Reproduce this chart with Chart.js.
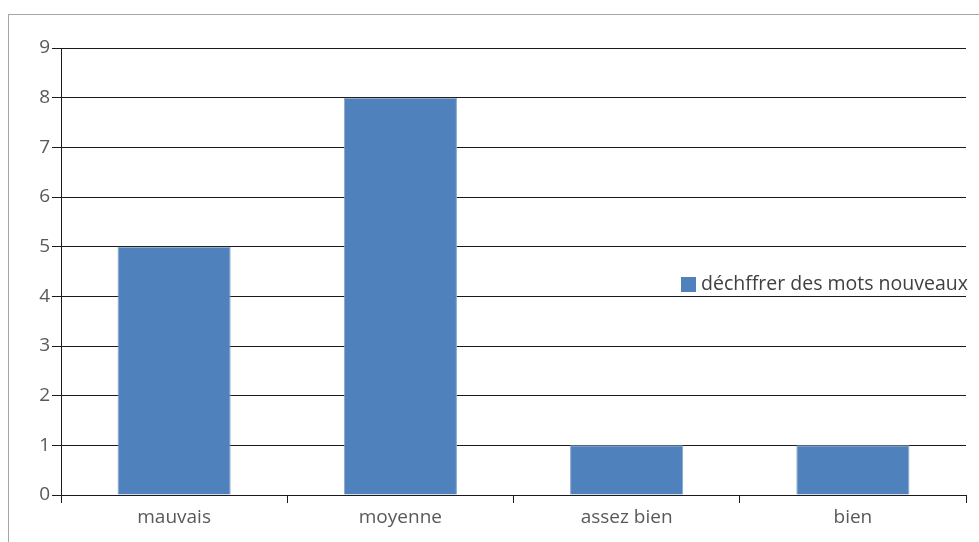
<!DOCTYPE html>
<html>
<head>
<meta charset="utf-8">
<script src="https://cdn.jsdelivr.net/npm/chart.js@4"></script>
<style>
  body { margin: 0; background: #fff; }
  #wrap { width: 979px; height: 542px; position: relative; }
</style>
</head>
<body>
<div id="wrap"><canvas id="chart" width="979" height="542"></canvas></div>
<script>
const categories = ["mauvais", "moyenne", "assez bien", "bien"];
const values = [5, 8, 1, 1];
const seriesLabel = "déchffrer des mots nouveaux";
const barColor = "#4f81bd";
const fontFamily = "'Open Sans', 'DejaVu Sans', sans-serif";

// outer frame + legend drawn over the plot, like the original sheet chart
const frameAndLegend = {
  id: "frameAndLegend",
  beforeDraw(chart) {
    const c = chart.ctx;
    c.save();
    c.strokeStyle = "#a6a6a6";
    c.lineWidth = 1;
    c.strokeRect(8.5, 14.5, 1000, 600);
    c.restore();
  },
  afterDraw(chart) {
    const c = chart.ctx;
    const ds = chart.data.datasets[0];
    c.save();
    c.fillStyle = ds.backgroundColor;
    c.fillRect(681, 277, 15, 15);
    c.font = "19.5px " + fontFamily;
    c.fillStyle = "#404040";
    c.textBaseline = "middle";
    c.fillText(ds.label, 701, 284);
    c.restore();
  }
};

new Chart(document.getElementById("chart").getContext("2d"), {
  type: "bar",
  data: {
    labels: categories,
    datasets: [{
      label: seriesLabel,
      data: values,
      backgroundColor: barColor,
      borderColor: "#8aa6c8",
      borderWidth: 1,
      barPercentage: 0.5,
      categoryPercentage: 1.0
    }]
  },
  options: {
    responsive: false,
    devicePixelRatio: 1,
    animation: false,
    layout: { padding: { top: 48, right: 13, left: 0, bottom: 0 } },
    plugins: { legend: { display: false }, tooltip: { enabled: false } },
    scales: {
      x: {
        afterFit: (s) => { s.height = 47; },
        grid: { drawOnChartArea: false, color: "#1a1a1a", tickLength: 8, offset: true },
        border: { color: "#1a1a1a", width: 1 },
        ticks: { color: "#595959", font: { family: fontFamily, size: 19 }, padding: 3 }
      },
      y: {
        min: 0,
        max: 9,
        afterFit: (s) => { s.width = 61; },
        grid: { color: "#1a1a1a", tickLength: 9 },
        border: { color: "#1a1a1a", width: 1 },
        ticks: { stepSize: 1, color: "#595959", font: { family: fontFamily, size: 19 }, padding: 2 }
      }
    }
  },
  plugins: [frameAndLegend]
});
</script>
</body>
</html>
